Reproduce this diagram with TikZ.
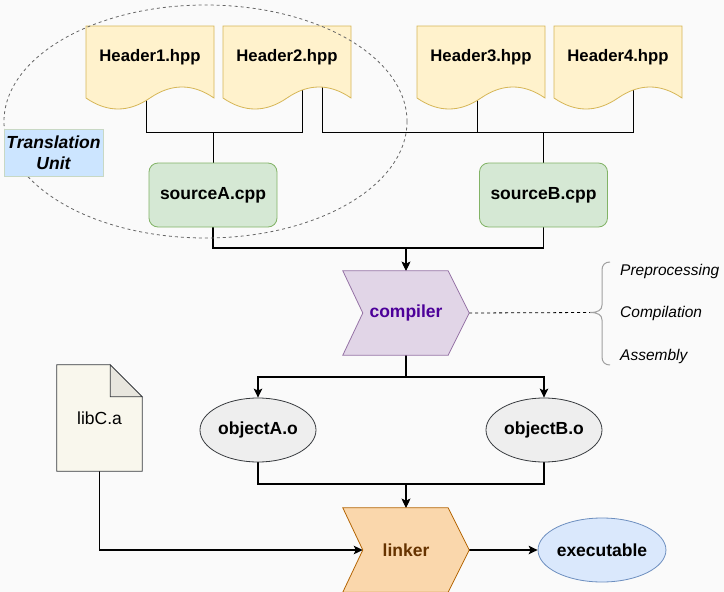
\documentclass[tikz,border=0pt]{standalone}
\usepackage{fontspec}
\setmainfont{Liberation Sans}
\usetikzlibrary{arrows.meta,calc,shapes.geometric}
\pgfdeclarelayer{back}
\pgfdeclarelayer{conn}
\pgfdeclarelayer{shp}
\pgfsetlayers{back,conn,shp,main}
\definecolor{bgc}{HTML}{FAFAFA}
\definecolor{hdrF}{HTML}{FFF2CC}
\definecolor{hdrD}{HTML}{D6B656}
\definecolor{srcF}{HTML}{D5E8D4}
\definecolor{srcD}{HTML}{82B366}
\definecolor{cmpF}{HTML}{E1D5E7}
\definecolor{cmpD}{HTML}{9673A6}
\definecolor{cmpT}{HTML}{4C0099}
\definecolor{lnkF}{HTML}{FAD7AC}
\definecolor{lnkD}{HTML}{B46504}
\definecolor{lnkT}{HTML}{663300}
\definecolor{objF}{HTML}{EEEEEE}
\definecolor{objD}{HTML}{36393D}
\definecolor{exeF}{HTML}{DAE8FC}
\definecolor{exeD}{HTML}{6C8EBF}
\definecolor{libF}{HTML}{F9F7ED}
\definecolor{libFold}{HTML}{E8E6DE}
\definecolor{tuF}{HTML}{CCE5FF}
\definecolor{tuD}{HTML}{C8D8C4}
\definecolor{brc}{HTML}{A0A0A0}
\newcommand\hdrshape[1]{%
  \path[fill=hdrF, draw=hdrD, line width=0.8pt] (#1,26) -- ({#1+128},26) -- ({#1+128},98)
    .. controls ({#1+106.67},83.33) and ({#1+85.33},83.33) .. ({#1+64},98)
    .. controls ({#1+42.67},112.67) and ({#1+21.33},112.67) .. (#1,98) -- cycle;}
\newcommand\stepshape[3]{%
  \path[fill=#2, draw=#3, line width=0.8pt] (#1.north west) -- ([xshift=-21pt]#1.north east)
    -- (#1.east) -- ([xshift=-21pt]#1.south east) -- (#1.south west)
    -- ([xshift=20pt]#1.west) -- cycle;}
\tikzset{
  conn/.style={draw=black, line width=1.4pt},
  arr/.style={conn, -{Stealth[length=9pt,width=8.5pt,inset=2pt]}},
  hconn/.style={draw=black, line width=0.9pt},
  boldtxt/.style={font=\fontsize{17.5}{20}\selectfont\bfseries},
  hdrtext/.style={font=\fontsize{16.7}{20}\selectfont\bfseries, inner sep=0pt},
  srcbox/.style={draw=srcD, fill=srcF, rounded corners=9pt, minimum width=128pt,
    minimum height=64pt, line width=0.8pt, boldtxt},
  objell/.style={ellipse, draw=objD, fill=objF, minimum width=116pt, minimum height=64pt,
    line width=0.8pt, boldtxt, inner sep=0pt},
  exeell/.style={objell, draw=exeD, fill=exeF, minimum width=118pt},
  stepnode/.style={minimum width=126pt, minimum height=84pt, inner sep=0pt, boldtxt},
  phase/.style={font=\fontsize{15.5}{18}\selectfont\itshape, anchor=west, inner sep=0pt},
}
\begin{document}
\begin{tikzpicture}[x=1pt,y=-1pt]
\useasboundingbox (0,0) rectangle (724,592);
\begin{pgfonlayer}{back}
  \fill[bgc] (0,0) rectangle (724,592);
\end{pgfonlayer}

% headers
\begin{pgfonlayer}{shp}
  \hdrshape{86}
  \hdrshape{223}
  \hdrshape{417}
  \hdrshape{554}
\end{pgfonlayer}
\node[hdrtext] (h1) at (150,57) {Header1.hpp};
\node[hdrtext] (h2) at (287,57) {Header2.hpp};
\node[hdrtext] (h3) at (481,57) {Header3.hpp};
\node[hdrtext] (h4) at (618,57) {Header4.hpp};

% sources
\node[srcbox] (sA) at (213,195) {sourceA.cpp};
\node[srcbox] (sB) at (543.5,195) {sourceB.cpp};

% compiler and linker
\node[stepnode, text=cmpT] (comp) at (406,313) {compiler};
\node[stepnode, text=lnkT] (link) at (406,550) {linker};
\begin{pgfonlayer}{shp}
  \stepshape{comp}{cmpF}{cmpD}
  \stepshape{link}{lnkF}{lnkD}
\end{pgfonlayer}

% objects
\node[objell] (oA) at (258,430) {objectA.o};
\node[objell] (oB) at (544,430) {objectB.o};
\node[exeell] (exe) at (602,550) {executable};

% library
\node[minimum width=85pt, minimum height=106pt, inner sep=0pt,
      font=\fontsize{17.5}{20}\selectfont] (lib) at (99.5,418) {libC.a};
\begin{pgfonlayer}{shp}
  \path[fill=libF, draw=objD, line width=0.8pt] (lib.north west) -- ([xshift=-32pt]lib.north east)
    -- ([yshift=-32pt]lib.north east) -- (lib.south east) -- (lib.south west) -- cycle;
  \path[fill=libFold, draw=objD, line width=0.8pt] ([xshift=-32pt]lib.north east)
    -- ([xshift=-32pt,yshift=-32pt]lib.north east) -- ([yshift=-32pt]lib.north east) -- cycle;
\end{pgfonlayer}

% phases
\coordinate (btip) at (590,312.5);
\node[phase] (p1) at (620,271.5) {Preprocessing};
\node[phase] (p2) at (620,313) {Compilation};
\node[phase] (p3) at (620,356) {Assembly};
\draw[brc, line width=1pt] (610,262) .. controls (605,262) and (602,265) .. (602,270)
  -- (602,305) .. controls (602,310) and (598,312.5) .. (btip)
  .. controls (598,312.5) and (602,315) .. (602,320)
  -- (602,357) .. controls (602,362) and (605,365) .. (610,365);

% junctions
\coordinate (jA) at (213,132);
\coordinate (jB) at (543.5,132);
\coordinate (jC) at (406,248);
\coordinate (jO) at (406,377);
\coordinate (jL) at (406,484);

\begin{pgfonlayer}{conn}
  \draw[hconn] ([xshift=-4pt]h1.center) |- (jA) -- (sA.north);
  \draw[hconn] ([xshift=15pt]h2.center) |- (jA);
  \draw[hconn] ([xshift=35pt]h2.center) |- (jB) -- (sB.north);
  \draw[hconn] ([xshift=-4pt]h3.center) |- (jB);
  \draw[hconn] ([xshift=15pt]h4.center) |- (jB);
  \draw[arr] (sA.south) |- (jC) -- (comp.north);
  \draw[arr] (sB.south) |- (jC) -- (comp.north);
  \draw[arr] (comp.south) -- (jO) -| (oA.north);
  \draw[arr] (comp.south) -- (jO) -| (oB.north);
  \draw[arr] (oA.south) |- (jL) -- (link.north);
  \draw[arr] (oB.south) |- (jL) -- (link.north);
  \draw[arr] (lib.south) |- ([xshift=20pt]link.west);
  \draw[arr] (link.east) -- (exe.west);
  \draw[line width=0.8pt, dash pattern=on 3pt off 3pt] (comp.east) -- (btip);
\end{pgfonlayer}

% translation unit
\draw[gray!80!black, line width=0.8pt, dash pattern=on 3pt off 3pt] (205.5,121.5) ellipse [x radius=201.5, y radius=116.5];
\node[fill=tuF, draw=tuD, line width=0.8pt, minimum width=99pt, minimum height=47pt, inner sep=0pt,
      align=center, font=\fontsize{17.5}{21}\selectfont\bfseries\itshape] (tu) at (53.5,152.5) {Translation\\Unit};
\end{tikzpicture}
\end{document}
